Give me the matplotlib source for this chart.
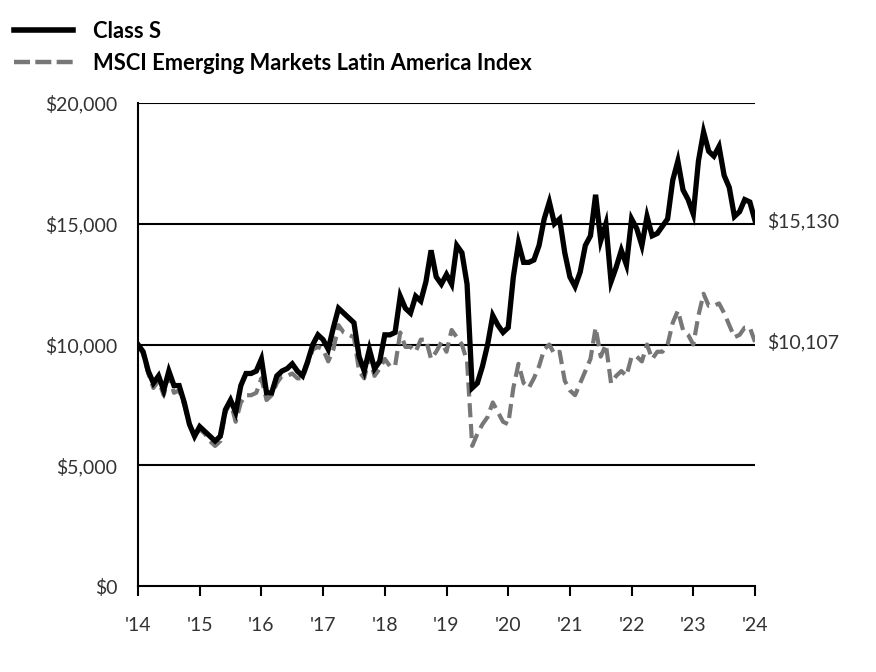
import matplotlib
matplotlib.use("Agg")
import matplotlib.pyplot as plt
from matplotlib.lines import Line2D
import numpy as np

plt.rcParams['font.family'] = ['Lato', 'DejaVu Sans']

class_s = [10000, 9700, 8900, 8400, 8700, 8100, 8900, 8300, 8300, 7600, 6700, 6200,
           6600, 6400, 6200, 6000, 6200, 7300, 7700, 7200, 8300, 8800, 8800, 8900,
           9400, 8000, 8000, 8700, 8900, 9000, 9200, 8900, 8700, 9300, 10000, 10400,
           10200, 9800, 10700, 11500, 11300, 11100, 10900, 9500, 8900, 9800, 9000, 9300,
           10400, 10400, 10500, 12000, 11500, 11300, 12000, 11800, 12600, 13900, 12800, 12500,
           12900, 12500, 14100, 13800, 12500, 8200, 8400, 9100, 10000, 11200, 10800, 10500,
           10700, 12800, 14200, 13400, 13400, 13500, 14100, 15200, 15900, 15000, 15200, 13800,
           12800, 12400, 13000, 14100, 14500, 16200, 14300, 15000, 12600, 13200, 13900, 13300,
           15200, 14800, 14100, 15300, 14500, 14600, 14900, 15200, 16800, 17600, 16400, 16000,
           15400, 17600, 18800, 18000, 17800, 18200, 17000, 16500, 15300, 15500, 16000, 15900,
           15130]

index_vals = [10000, 9600, 8800, 8200, 8500, 7900, 8700, 8000, 8100, 7500, 6700, 6200,
              6500, 6300, 6000, 5800, 6000, 7200, 7600, 6800, 7600, 7900, 7900, 8000,
              8600, 7700, 7900, 8400, 8700, 8700, 8800, 8600, 8600, 9200, 9800, 9900,
              9800, 9300, 9800, 10800, 10500, 10400, 10300, 8900, 8600, 9500, 8700, 9000,
              9400, 9100, 9100, 10500, 9900, 9900, 9700, 10200, 10200, 9400, 9700, 10100,
              9700, 10600, 10300, 10000, 9300, 5800, 6300, 6700, 7000, 7600, 7200, 6800,
              6700, 8200, 9200, 8400, 8200, 8600, 9100, 9800, 10000, 9600, 9700, 8500,
              8100, 7900, 8400, 8900, 9400, 10700, 9500, 10000, 8400, 8700, 8900, 8700,
              9500, 9500, 9300, 10000, 9400, 9700, 9700, 10000, 10900, 11400, 10600, 10400,
              10000, 11200, 12100, 11600, 11600, 11700, 11300, 10800, 10300, 10400, 10700, 10700,
              10107]

year_labels = ["'14", "'15", "'16", "'17", "'18", "'19", "'20", "'21", "'22", "'23", "'24"]
y_ticks = [0, 5000, 10000, 15000, 20000]
y_labels = ["$0", "$5,000", "$10,000", "$15,000", "$20,000"]
series_names = ["Class S", "MSCI Emerging Markets Latin America Index"]
end_labels = ["$15,130", "$10,107"]

TXT = '#333333'
fig = plt.figure(figsize=(8.76, 6.72), dpi=100)
ax = fig.add_axes([138/876, 1 - 586/672, (755-138)/876, (586-103)/672])

months = np.arange(len(class_s))
gray = '#777777'

for y in y_ticks[1:]:
    ax.axhline(y, color='black', lw=1.5, zorder=1)

ax.plot(months, index_vals, color=gray, lw=3.0, dashes=(3.4, 1.6), zorder=2)
ax.plot(months, class_s, color='black', lw=3.8, zorder=3, solid_joinstyle='miter')

ax.set_xlim(0, 120)
ax.set_ylim(0, 20000)
ax.set_xticks(np.arange(0, 121, 12))
ax.set_xticklabels(year_labels, fontsize=14, color=TXT)
ax.set_yticks(y_ticks)
ax.set_yticklabels(y_labels, fontsize=14, color=TXT)
ax.tick_params(axis='x', direction='out', length=7, width=1.5, pad=15)
ax.tick_params(axis='y', length=0, pad=15)

for s in ['top', 'right']:
    ax.spines[s].set_visible(False)
for s in ['left', 'bottom']:
    ax.spines[s].set_linewidth(1.5)

ax.text(120 + 2.3, class_s[-1], end_labels[0], fontsize=14, va='center', ha='left', color=TXT)
ax.text(120 + 2.3, index_vals[-1], end_labels[1], fontsize=14, va='center', ha='left', color=TXT)

handles = [Line2D([0], [0], color='black', lw=4),
           Line2D([0], [0], color=gray, lw=3.2, dashes=(3.6, 1.2))]
fig.legend(handles, series_names, loc='upper left', bbox_to_anchor=(14/876, 1 - 21/672),
           frameon=False, handlelength=2.7, handletextpad=0.9, labelspacing=0.5,
           borderpad=0, borderaxespad=0,
           prop={'weight': 'bold', 'size': 15.8})

fig.savefig('out.png', dpi=100)
